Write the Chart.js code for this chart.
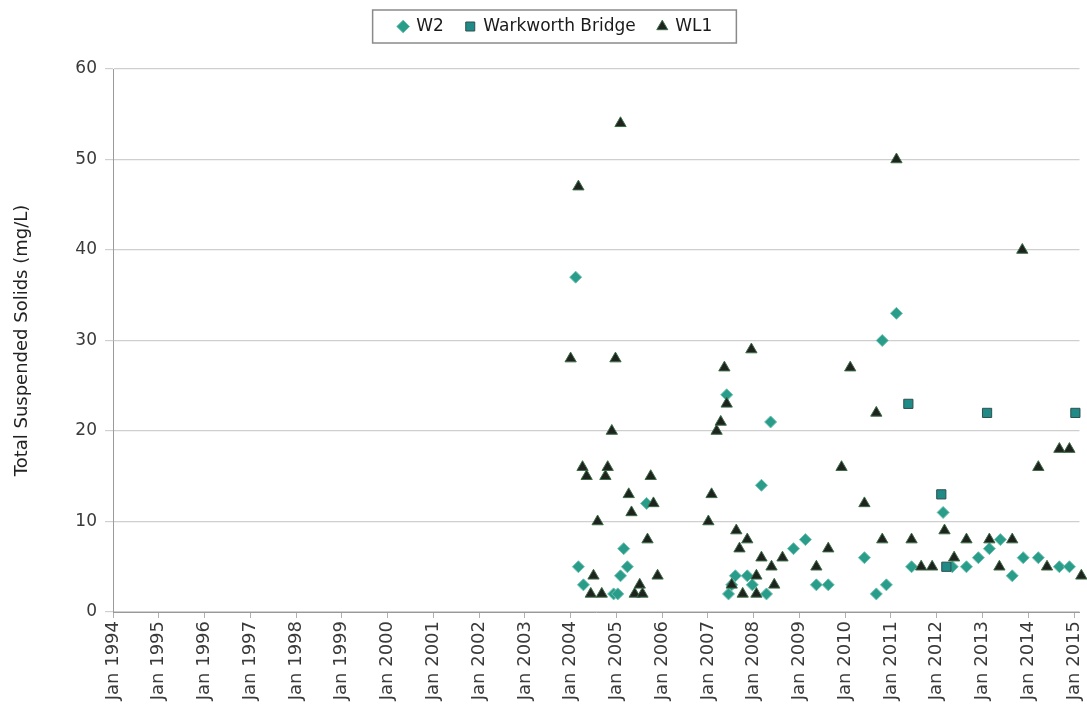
<!DOCTYPE html>
<html>
<head>
<meta charset="utf-8">
<script src="https://cdn.jsdelivr.net/npm/chart.js@4.4.1/dist/chart.umd.min.js"></script>
<style>
  body { margin: 0; background: #fff; }
  #wrap { width: 1087px; height: 709px; }
</style>
</head>
<body>
<div id="wrap"><canvas id="tssChart" width="1087" height="709"></canvas></div>
<script>
// tick labels (years shown as "Jan yyyy")
const tickYears = [1994, 1995, 1996, 1997, 1998, 1999, 2000, 2001, 2002, 2003, 2004,
    2005, 2006, 2007, 2008, 2009, 2010, 2011, 2012, 2013, 2014, 2015]

// W2 - sample dates (decimal years) and TSS (mg/L)
const w2Dates = [2004.11, 2004.17, 2004.28, 2004.94, 2005.03, 2005.09, 2005.16, 2005.24, 2005.66,
    2007.41, 2007.45, 2007.52, 2007.60, 2007.86, 2007.97, 2008.28, 2008.17, 2008.37, 2008.87,
    2009.13, 2009.37, 2009.63, 2010.42, 2010.68, 2010.81, 2010.90, 2011.12, 2011.45, 2012.14,
    2012.34, 2012.65, 2012.91, 2013.15, 2013.39, 2013.65, 2013.89, 2014.22, 2014.68, 2014.90]
const w2Values = [37, 5, 3, 2, 2, 4, 7, 5, 12,
    24, 2, 3, 4, 4, 3, 2, 14, 21, 7,
    8, 3, 3, 6, 2, 30, 3, 33, 5, 11,
    5, 5, 6, 7, 8, 4, 6, 6, 5, 5]

// Warkworth Bridge
const wbDates = [2011.38, 2012.10, 2012.21, 2013.10, 2015.03]
const wbValues = [23, 13, 5, 22, 22]

// WL1
const wl1Dates = [2004.00, 2004.17, 2004.26, 2004.35, 2004.44, 2004.50, 2004.59, 2004.68, 2004.76,
    2004.81, 2004.90, 2004.98, 2005.09, 2005.27, 2005.33, 2005.40, 2005.51, 2005.57, 2005.68,
    2005.75, 2005.81, 2005.90, 2007.01, 2007.08, 2007.19, 2007.28, 2007.36, 2007.41, 2007.52,
    2007.62, 2007.69, 2007.76, 2007.86, 2007.95, 2008.06, 2008.06, 2008.17, 2008.39, 2008.45,
    2008.63, 2009.37, 2009.63, 2009.92, 2010.11, 2010.42, 2010.68, 2010.81, 2011.12, 2011.45,
    2011.66, 2011.90, 2012.17, 2012.38, 2012.65, 2013.15, 2013.37, 2013.65, 2013.87, 2014.22,
    2014.41, 2014.68, 2014.90, 2015.16]
const wl1Values = [28, 47, 16, 15, 2, 4, 10, 2, 15,
    16, 20, 28, 54, 13, 11, 2, 3, 2, 8,
    15, 12, 4, 10, 13, 20, 21, 27, 23, 3,
    9, 7, 2, 8, 29, 4, 2, 6, 5, 3,
    6, 5, 7, 16, 27, 12, 22, 8, 50, 8,
    5, 5, 9, 6, 8, 8, 5, 8, 40, 16,
    5, 18, 18, 4]

function toPoints(xs, ys) {
    return xs.map((x, i) => ({ x: x, y: ys[i] }))
}

const textColor = '#3a3a3a'
const fontFamily = "'DejaVu Sans', Verdana, sans-serif"
// legend nudge, so it sits where the original one does
const legendShiftX = 12
const legendShiftY = -6

// draws the box round the legend, and leaves room under it
const legendBox = {
    id: 'legendBox',
    beforeLayout(chart) {
        const lg = chart.legend
        if (lg && !lg._patched) {
            const fit = lg.fit
            lg.fit = function () {
                fit.call(this)
                this.height += 18
            }
            const draw = lg.draw
            lg.draw = function () {
                const ctx = this.ctx
                ctx.save()
                ctx.translate(legendShiftX, legendShiftY)
                draw.apply(this, arguments)
                ctx.restore()
            }
            lg._patched = true
        }
    },
    afterDraw(chart) {
        const hb = chart.legend.legendHitBoxes
        if (!hb || !hb.length) return
        let left = Math.min(...hb.map(b => b.left)) + legendShiftX
        let right = Math.max(...hb.map(b => b.left + b.width)) + legendShiftX
        let top = Math.min(...hb.map(b => b.top)) + legendShiftY
        let bottom = Math.max(...hb.map(b => b.top + b.height)) + legendShiftY
        const ctx = chart.ctx
        ctx.save()
        ctx.strokeStyle = '#8a8a8a'
        ctx.lineWidth = 1.5
        ctx.strokeRect(left - 26, top - 8, right - left + 50, bottom - top + 16)
        ctx.restore()
    }
}

const data = {
    datasets: [
        {
            label: 'W2',
            data: toPoints(w2Dates, w2Values),
            pointStyle: 'rectRot',
            pointRadius: 6,
            backgroundColor: '#2a9d8a',
            borderColor: '#6cc0b0',
            borderWidth: 1,
            clip: false,
            order: 3
        },
        {
            label: 'Warkworth Bridge',
            data: toPoints(wbDates, wbValues),
            pointStyle: 'rect',
            pointRadius: 6.5,
            backgroundColor: '#1f8a86',
            borderColor: '#2f4f4f',
            borderWidth: 1,
            clip: false,
            order: 2
        },
        {
            label: 'WL1',
            data: toPoints(wl1Dates, wl1Values),
            pointStyle: 'triangle',
            pointRadius: 6.5,
            backgroundColor: '#1e231f',
            borderColor: '#3d6b45',
            borderWidth: 1,
            clip: false,
            order: 1
        }
    ]
}

const config = {
    type: 'scatter',
    data: data,
    options: {
        responsive: false,
        animation: false,
        layout: { padding: { top: 2, right: 0, left: 0, bottom: 0 } },
        plugins: {
            tooltip: { enabled: false },
            legend: {
                position: 'top',
                labels: {
                    usePointStyle: true,
                    boxWidth: 9,
                    boxHeight: 9,
                    padding: 22,
                    color: '#1a1a1a',
                    font: { family: fontFamily, size: 17 },
                    sort: (a, b) => a.datasetIndex - b.datasetIndex
                }
            }
        },
        scales: {
            x: {
                type: 'linear',
                min: 1994,
                max: 2015.12,
                afterBuildTicks: scale => {
                    scale.ticks = tickYears.map(v => ({ value: v }))
                },
                afterFit: scale => {
                    scale.height = 97
                    scale.paddingLeft = 0
                    scale.paddingRight = 0
                },
                border: { color: '#9a9a9a', width: 1 },
                grid: { drawOnChartArea: false, drawTicks: true, tickLength: 6, color: '#b0b0b0' },
                ticks: {
                    autoSkip: false,
                    maxRotation: 90,
                    minRotation: 90,
                    color: textColor,
                    font: { family: fontFamily, size: 18 },
                    callback: v => 'Jan ' + v
                }
            },
            y: {
                min: 0,
                max: 60,
                afterFit: scale => { scale.width = 113 },
                border: { color: '#9a9a9a', width: 1 },
                grid: { color: '#cfcfcf', lineWidth: 1.2, tickLength: 8 },
                ticks: {
                    stepSize: 10,
                    color: textColor,
                    padding: 8,
                    font: { family: fontFamily, size: 17 }
                },
                title: {
                    display: true,
                    text: 'Total Suspended Solids (mg/L)',
                    color: '#222',
                    font: { family: fontFamily, size: 18 },
                    padding: { top: 12, bottom: 8 }
                }
            }
        }
    },
    plugins: [legendBox]
}

const tssChart = new Chart(document.getElementById('tssChart'), config)
</script>
</body>
</html>
